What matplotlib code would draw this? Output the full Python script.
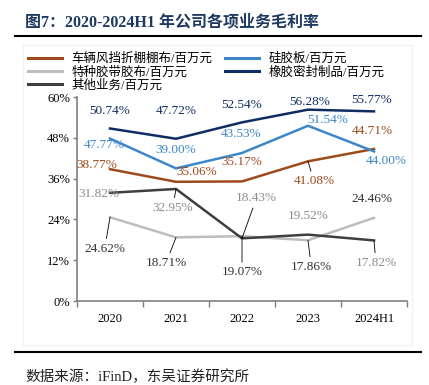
import matplotlib
matplotlib.use("Agg")
import matplotlib.pyplot as plt
from matplotlib.lines import Line2D
from matplotlib.patches import Rectangle

plt.rcParams['font.family'] = ['Liberation Serif', 'Noto Sans CJK SC', 'DejaVu Sans']

# data
years = ['2020', '2021', '2022', '2023', '2024H1']
names = ['车辆风挡折棚棚布/百万元', '硅胶板/百万元', '特种胶带胶布/百万元',
         '橡胶密封制品/百万元', '其他业务/百万元']
windshield = [38.77, 35.06, 35.17, 41.08, 44.71]
silicone = [47.77, 39.00, 43.53, 51.54, 44.00]
tape = [24.62, 18.71, 19.07, 17.86, 24.46]
seal = [50.74, 47.72, 52.54, 56.28, 55.77]
other = [31.82, 32.95, 18.43, 19.52, 17.82]

series = [windshield, silicone, tape, seal, other]
colors = ['#9E4A1C', '#3C87C9', '#BDBDBD', '#0F2D62', '#3F3F3F']
label_colors = ['#9E4A1C', '#3C87C9', '#333333', '#0F2D62', '#8C8C8C']

# label positions (x, y in data units) per series
label_pos = [
    [(-0.20, 40.1), (1.32, 37.8), (1.99, 40.8), (3.09, 35.2), (3.98, 50.0)],
    [(-0.08, 46.0), (1.00, 44.4), (1.99, 49.1), (3.30, 53.2), (4.19, 41.1)],
    [(-0.08, 15.4), (0.85, 11.2), (2.00, 8.4), (3.05, 10.0), (3.97, 30.0)],
    [(0.00, 55.9), (1.00, 55.9), (1.99, 57.7), (3.02, 58.6), (3.97, 59.0)],
    [(-0.17, 31.5), (0.95, 27.4), (2.22, 30.3), (3.00, 24.9), (4.03, 11.2)],
]
# which labels get a leader line
leaders = {(0, 3), (2, 0), (2, 1), (2, 2), (2, 3), (4, 1), (4, 2), (4, 4)}

W, H = 429, 385
fig = plt.figure(figsize=(W / 100, H / 100), dpi=100)
ax = fig.add_axes([77 / W, 1 - 301 / H, 330 / W, 204 / H])

# faint frame round the chart area
fig.patches.append(Rectangle((23 / W, 1 - 345 / H), 389 / W, 300 / H,
                             transform=fig.transFigure, fill=False,
                             edgecolor='#F0F0F0', lw=0.8, zorder=0))

x = range(len(years))
for k, vals in enumerate(series):
    ax.plot(x, vals, color=colors[k], lw=1.8, zorder=3)

for k, vals in enumerate(series):
    for i, v in enumerate(vals):
        lx, ly = label_pos[k][i]
        txt = '%.2f%%' % v
        if (k, i) in leaders:
            ax.annotate(txt, xy=(i, v), xytext=(lx, ly), ha='center', va='center',
                        fontsize=9.5, color=label_colors[k], zorder=5,
                        arrowprops=dict(arrowstyle='-', color='black', lw=0.6,
                                        shrinkA=1, shrinkB=0))
        else:
            ax.text(lx, ly, txt, ha='center', va='center', fontsize=9.5,
                    color=label_colors[k], zorder=5)

ax.set_xlim(-0.5, 4.5)
ax.set_ylim(0, 60)
ax.set_yticks(range(0, 61, 12))
ax.set_yticklabels(['%d%%' % t for t in range(0, 61, 12)], fontsize=9)
ax.set_xticks(list(x))
ax.set_xticklabels(years, fontsize=9)
ax.set_xticks([i + 0.5 for i in range(-1, 5)], minor=True)
ax.tick_params(axis='x', which='major', length=0, pad=9)
ax.tick_params(axis='x', which='minor', length=4, color='#7F7F7F', width=1)
ax.tick_params(axis='y', length=3, color='#7F7F7F', width=1, pad=2)
for s in ['top', 'right']:
    ax.spines[s].set_visible(False)
for s in ['left', 'bottom']:
    ax.spines[s].set_color('#7F7F7F')
    ax.spines[s].set_linewidth(1.2)

# legend
order = [0, 2, 4, 1, 3]
handles = [Line2D([], [], color=colors[k], lw=2.2) for k in order]
fig.legend(handles, [names[k] for k in order], ncol=2, frameon=False,
           loc='upper left', bbox_to_anchor=(28 / W, 1 - 53 / H),
           fontsize=9, handlelength=2.7, handletextpad=0.8,
           columnspacing=1.0, labelspacing=0.08, borderpad=0, borderaxespad=0)

# title, rules and source
fig.text(25 / W, 1 - 22 / H, '图7：2020-2024H1 年公司各项业务毛利率', fontsize=11.5,
         fontweight='bold', color='#1F3A60', va='center', ha='left')
fig.add_artist(Line2D([15 / W, 421 / W], [1 - 36 / H, 1 - 36 / H], color='black', lw=1.5))
fig.add_artist(Line2D([15 / W, 421 / W], [1 - 352 / H, 1 - 352 / H], color='black', lw=1.5))
fig.text(25 / W, 1 - 377 / H, '数据来源：iFinD，东吴证券研究所', fontsize=10.5,
         va='center', ha='left', color='#222222')

fig.savefig('out.png', dpi=100)
